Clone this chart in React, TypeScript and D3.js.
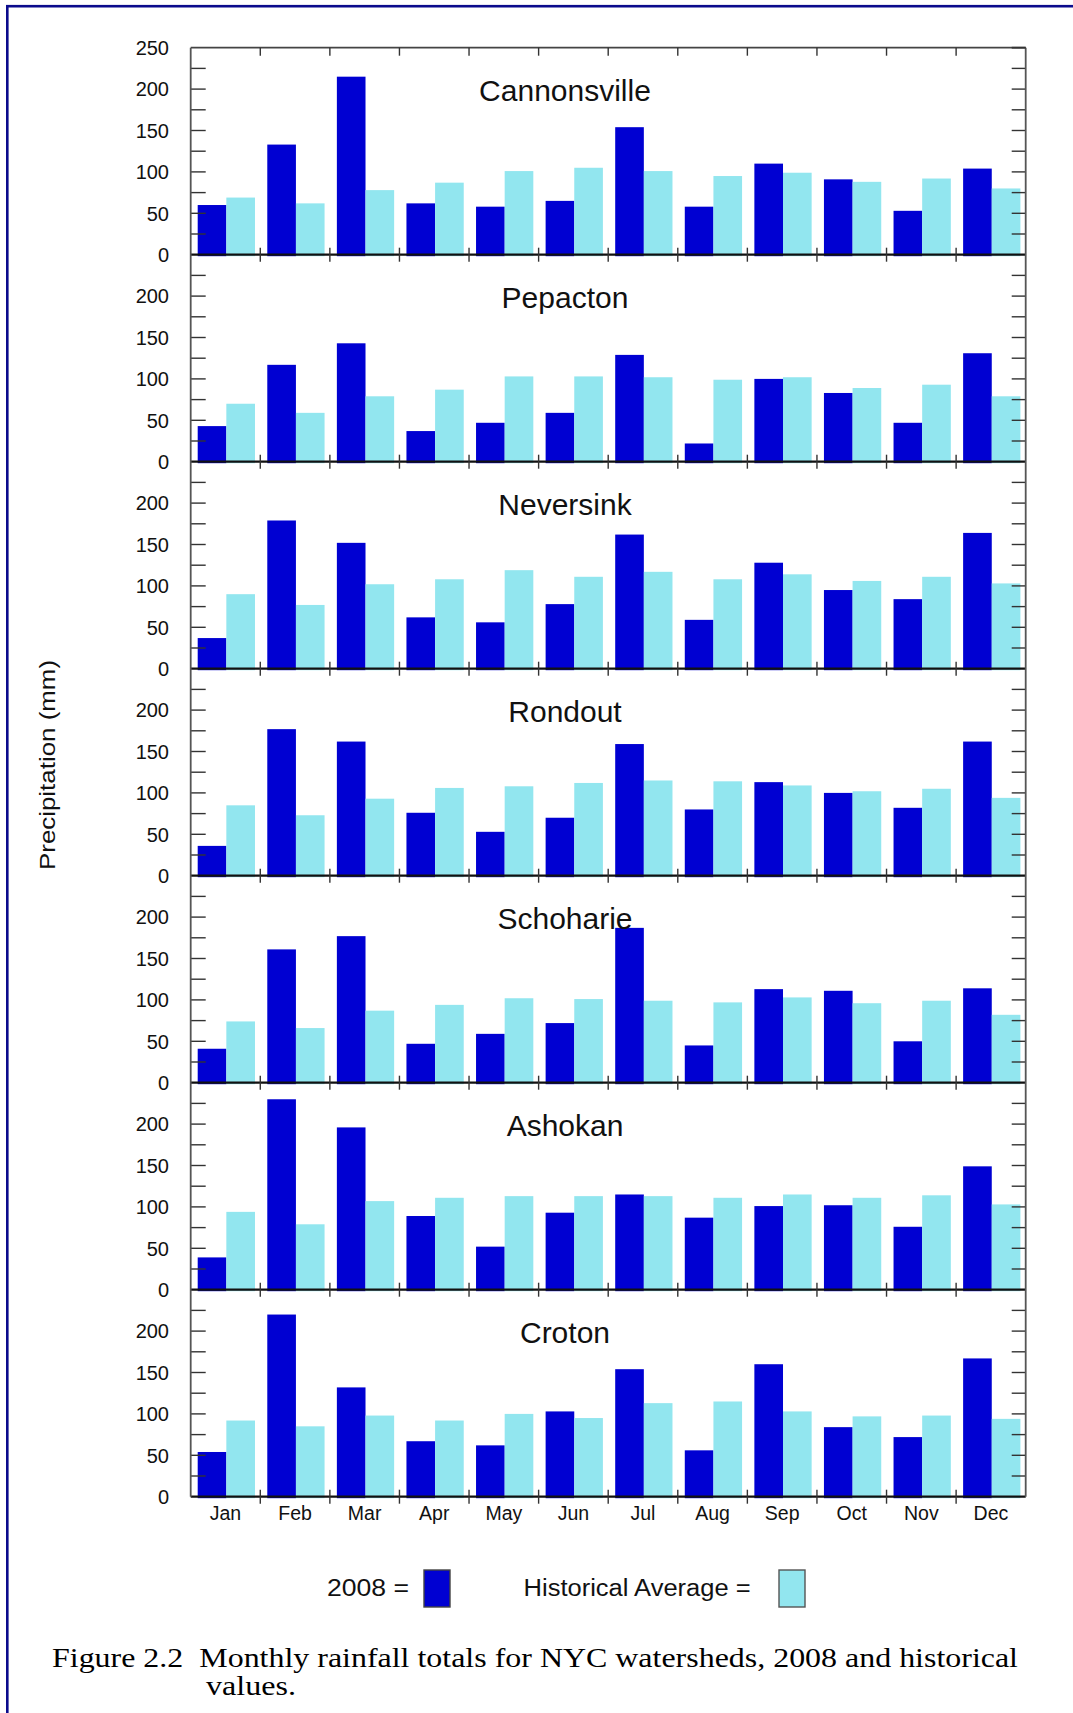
import React from 'react';
import * as d3 from 'd3';

// Monthly precipitation (mm): 2008 totals and historical averages per watershed
const months = ['Jan', 'Feb', 'Mar', 'Apr', 'May', 'Jun', 'Jul', 'Aug', 'Sep', 'Oct', 'Nov', 'Dec'];
const watersheds = ['Cannonsville', 'Pepacton', 'Neversink', 'Rondout', 'Schoharie', 'Ashokan', 'Croton'];

const cannonsville2008 = [60, 133, 215, 62, 58, 65, 154, 58, 110, 91, 53, 104];
const cannonsvilleHist = [69, 62, 78, 87, 101, 105, 101, 95, 99, 88, 92, 80];
const pepacton2008 = [43, 117, 143, 37, 47, 59, 129, 22, 100, 83, 47, 131];
const pepactonHist = [70, 59, 79, 87, 103, 103, 102, 99, 102, 89, 93, 79];
const neversink2008 = [37, 179, 152, 62, 56, 78, 162, 59, 128, 95, 84, 164];
const neversinkHist = [90, 77, 102, 108, 119, 111, 117, 108, 114, 106, 111, 103];
const rondout2008 = [36, 177, 162, 76, 53, 70, 159, 80, 113, 100, 82, 162];
const rondoutHist = [85, 73, 93, 106, 108, 112, 115, 114, 109, 102, 105, 94];
const schoharie2008 = [41, 161, 177, 47, 59, 72, 187, 45, 113, 111, 50, 114];
const schoharieHist = [74, 66, 87, 94, 102, 101, 99, 97, 103, 96, 99, 82];
const ashokan2008 = [39, 230, 196, 89, 52, 93, 115, 87, 101, 102, 76, 149];
const ashokanHist = [94, 79, 107, 111, 113, 113, 113, 111, 115, 111, 114, 103];
const croton2008 = [54, 220, 132, 67, 62, 103, 154, 56, 160, 84, 72, 167];
const crotonHist = [92, 85, 98, 92, 100, 95, 113, 115, 103, 97, 98, 94];

const series = ['2008', 'Historical Average'];
const yTicksFirst = [0, 50, 100, 150, 200, 250];
const yTicksOther = [0, 50, 100, 150, 200];
const minorTicks = [25, 50, 75, 100, 125, 150, 175, 200, 225];

const values2008 = [cannonsville2008, pepacton2008, neversink2008, rondout2008, schoharie2008, ashokan2008, croton2008];
const valuesHist = [cannonsvilleHist, pepactonHist, neversinkHist, rondoutHist, schoharieHist, ashokanHist, crotonHist];

const W = 1073;
const H = 1713;
const left = 190.7;
const right = 1025.7;
const top = 47.7;
const panelH = 207;

const DARK = '#0000d2';
const LIGHT = '#92e6ef';
const SANS = '"Liberation Sans", Arial, Helvetica, sans-serif';
const SERIF = '"Liberation Serif", "Times New Roman", serif';

export default function App() {
  const x = d3.scaleBand<string>().domain(months).range([left, right]).padding(0);
  const step = x.step();
  const inner = d3.scaleBand<string>().domain(series).range([7, step - 5.3]).padding(0);
  const bottom = top + panelH * watersheds.length;

  const panels = watersheds.map((name, i) => {
    const y = d3.scaleLinear().domain([0, 250]).range([top + (i + 1) * panelH, top + i * panelH]);
    return { name, y, d2008: values2008[i], dHist: valuesHist[i], ticks: i === 0 ? yTicksFirst : yTicksOther };
  });

  const boundaries = months.slice(1).map((m) => x(m) as number);

  return (
    <svg
      width={W}
      height={H}
      viewBox={`0 0 ${W} ${H}`}
      style={{ position: 'absolute', left: 0, top: 0, display: 'block', background: '#fff' }}
    >
      <rect x={0} y={0} width={W} height={H} fill="#fff" />
      {/* page frame */}
      <rect x={7.3} y={6.2} width={W + 40} height={H + 40} fill="none" stroke="#0b0b8c" strokeWidth={2.6} />

      {panels.map((p, i) => {
        const y0 = p.y(0);
        return (
          <g key={p.name}>
            {months.map((m, j) => (
              <g key={m}>
                <rect
                  x={(x(m) as number) + (inner('2008') as number)}
                  y={p.y(p.d2008[j])}
                  width={inner.bandwidth()}
                  height={y0 - p.y(p.d2008[j]) + 1.5}
                  fill={DARK}
                />
                <rect
                  x={(x(m) as number) + (inner('Historical Average') as number)}
                  y={p.y(p.dHist[j])}
                  width={inner.bandwidth()}
                  height={y0 - p.y(p.dHist[j]) + 1.5}
                  fill={LIGHT}
                />
              </g>
            ))}
            {/* inward y ticks on both sides */}
            {minorTicks.map((t) => (
              <g key={t}>
                <line x1={left} x2={left + 15} y1={p.y(t)} y2={p.y(t)} stroke="#333" strokeWidth={1.4} />
                <line x1={right - 14} x2={right} y1={p.y(t)} y2={p.y(t)} stroke="#333" strokeWidth={1.4} />
              </g>
            ))}
            {/* zero line */}
            <line x1={left} x2={right} y1={y0} y2={y0} stroke="#111" strokeWidth={2.2} />
            {boundaries.map((bx, k) => (
              <line key={k} x1={bx} x2={bx} y1={y0 - 7} y2={y0 + 7} stroke="#333" strokeWidth={1.4} />
            ))}
            {/* y tick labels */}
            {p.ticks.map((t) => (
              <text
                key={t}
                x={169}
                y={p.y(t)}
                dy="0.36em"
                textAnchor="end"
                fontFamily={SANS}
                fontSize={20}
                fill="#111"
              >
                {t}
              </text>
            ))}
            <text
              x={565}
              y={top + i * panelH + 53}
              textAnchor="middle"
              fontFamily={SANS}
              fontSize={30}
              fill="#111"
            >
              {p.name}
            </text>
          </g>
        );
      })}

      {/* plot frame */}
      <line x1={left} x2={right} y1={top} y2={top} stroke="#444" strokeWidth={1.8} />
      <line x1={left} x2={left} y1={top} y2={bottom} stroke="#555" strokeWidth={1.8} />
      <line x1={right} x2={right} y1={top} y2={bottom} stroke="#555" strokeWidth={1.8} />
      <line x1={right - 14} x2={right} y1={top} y2={top} stroke="#333" strokeWidth={1.8} />
      {boundaries.map((bx, k) => (
        <line key={k} x1={bx} x2={bx} y1={top} y2={top + 8} stroke="#333" strokeWidth={1.4} />
      ))}

      {/* month labels */}
      {months.map((m) => (
        <text
          key={m}
          x={(x(m) as number) + step / 2}
          y={1520}
          textAnchor="middle"
          fontFamily={SANS}
          fontSize={19.5}
          fill="#111"
        >
          {m}
        </text>
      ))}

      {/* y axis title */}
      <text
        transform="translate(55,765) rotate(-90)"
        textAnchor="middle"
        fontFamily={SANS}
        fontSize={22}
        textLength={210}
        lengthAdjust="spacingAndGlyphs"
        fill="#111"
      >
        Precipitation (mm)
      </text>

      {/* legend */}
      <text x={327} y={1596} fontFamily={SANS} fontSize={23} textLength={82} lengthAdjust="spacingAndGlyphs" fill="#111">
        2008 =
      </text>
      <rect x={424} y={1570} width={26} height={37} fill={DARK} stroke="#444" strokeWidth={1.4} />
      <text x={523.6} y={1596} fontFamily={SANS} fontSize={23} textLength={227} lengthAdjust="spacingAndGlyphs" fill="#111">
        Historical Average =
      </text>
      <rect x={779} y={1570} width={26} height={37} fill={LIGHT} stroke="#555" strokeWidth={1.4} />

      {/* caption */}
      <text x={52} y={1667} fontFamily={SERIF} fontSize={28} textLength={966} lengthAdjust="spacingAndGlyphs" fill="#000">
        {'Figure 2.2\u00A0 Monthly rainfall totals for NYC watersheds, 2008 and historical'}
      </text>
      <text x={206} y={1695} fontFamily={SERIF} fontSize={28} textLength={90} lengthAdjust="spacingAndGlyphs" fill="#000">
        values.
      </text>
    </svg>
  );
}
